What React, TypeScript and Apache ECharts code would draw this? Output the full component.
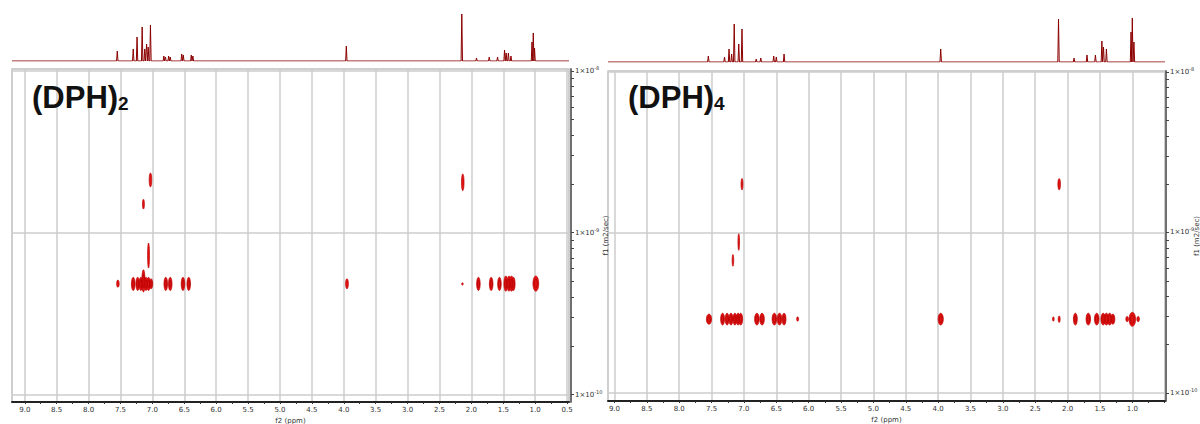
import React, { useEffect, useRef } from 'react';
import * as echarts from 'echarts';

// ---------- axis labels ----------
const xLabelsLeft = [9.0, 8.5, 8.0, 7.5, 7.0, 6.5, 6.0, 5.5, 5.0, 4.5, 4.0, 3.5, 3.0, 2.5, 2.0, 1.5, 1.0, 0.5];
const xLabelsRight = [9.0, 8.5, 8.0, 7.5, 7.0, 6.5, 6.0, 5.5, 5.0, 4.5, 4.0, 3.5, 3.0, 2.5, 2.0, 1.5, 1.0];
const yLabels = [1e-10, 1e-9, 1e-8];
const yMinorMultipliers = [1, 2, 3, 4, 5, 6, 7, 8, 9];

// axis ranges
const leftPpmRange = [0.47, 9.2];
const rightPpmRange = [0.495, 9.1];
const leftDRange = [8.99e-11, 1.028e-8];
const rightDRange = [8.91e-11, 1.014e-8];

// ---------- 1D projections (ppm, intensity) ----------
const left1DPpm = [7.55, 7.30, 7.24, 7.16, 7.12, 7.09, 7.065, 7.03, 6.82, 6.795, 6.745, 6.72, 6.54, 6.515, 6.39, 6.365, 3.96, 2.15, 1.92, 1.72, 1.59, 1.48, 1.455, 1.42, 1.38, 1.05, 1.03, 1.01];
const left1DInt = [10, 12, 24, 34, 12, 17, 14, 36, 5, 4, 5, 4, 7, 6, 6, 5, 15, 47, 3, 4, 4, 11, 8, 8, 5, 19, 28, 13];

const right1DPpm = [7.55, 7.30, 7.23, 7.19, 7.15, 7.08, 7.03, 6.81, 6.74, 6.54, 6.50, 6.38, 3.96, 2.14, 1.90, 1.70, 1.57, 1.47, 1.445, 1.40, 1.02, 1.00, 0.975];
const right1DInt = [6, 5, 13, 8, 38, 18, 33, 3, 4, 6, 5, 8, 13, 43, 4, 7, 7, 21, 15, 13, 30, 44, 20];

// ---------- DOSY cross peaks: centre ppm, ppm half width, D low, D high ----------
const leftSpotPpm = [7.54, 7.30, 7.23, 7.18, 7.14, 7.10, 7.06, 7.02, 6.79, 6.72, 6.52, 6.43, 3.95, 2.14, 1.89, 1.69, 1.56, 1.46, 1.41, 1.37, 1.34, 0.99, 7.03, 7.14, 7.06, 2.135];
const leftSpotHw = [0.02, 0.028, 0.028, 0.028, 0.025, 0.028, 0.028, 0.025, 0.028, 0.028, 0.028, 0.028, 0.022, 0.01, 0.028, 0.028, 0.028, 0.03, 0.03, 0.03, 0.025, 0.045, 0.02, 0.015, 0.015, 0.02];
const leftSpotDLow = [4.6e-10, 4.4e-10, 4.4e-10, 4.4e-10, 4.3e-10, 4.4e-10, 4.4e-10, 4.5e-10, 4.4e-10, 4.4e-10, 4.4e-10, 4.4e-10, 4.5e-10, 4.75e-10, 4.4e-10, 4.4e-10, 4.4e-10, 4.35e-10, 4.35e-10, 4.35e-10, 4.4e-10, 4.35e-10, 1.92e-9, 1.40e-9, 6.05e-10, 1.82e-9];
const leftSpotDHigh = [5.1e-10, 5.3e-10, 5.3e-10, 5.3e-10, 5.9e-10, 5.3e-10, 5.3e-10, 5.2e-10, 5.3e-10, 5.3e-10, 5.3e-10, 5.3e-10, 5.2e-10, 4.9e-10, 5.3e-10, 5.3e-10, 5.3e-10, 5.4e-10, 5.4e-10, 5.4e-10, 5.3e-10, 5.4e-10, 2.34e-9, 1.61e-9, 8.63e-10, 2.31e-9];

const rightSpotPpm = [7.54, 7.33, 7.26, 7.20, 7.14, 7.09, 7.05, 6.80, 6.72, 6.53, 6.45, 6.38, 6.17, 3.96, 2.22, 2.13, 1.88, 1.68, 1.55, 1.45, 1.40, 1.35, 1.30, 1.08, 1.00, 0.91, 7.03, 7.08, 7.17, 2.13];
const rightSpotHw = [0.04, 0.03, 0.03, 0.03, 0.03, 0.03, 0.03, 0.035, 0.035, 0.035, 0.035, 0.03, 0.015, 0.04, 0.01, 0.015, 0.03, 0.035, 0.035, 0.035, 0.035, 0.035, 0.03, 0.02, 0.05, 0.02, 0.015, 0.012, 0.012, 0.02];
const rightSpotDLow = [2.68e-10, 2.65e-10, 2.65e-10, 2.65e-10, 2.65e-10, 2.65e-10, 2.65e-10, 2.65e-10, 2.65e-10, 2.65e-10, 2.65e-10, 2.65e-10, 2.8e-10, 2.65e-10, 2.8e-10, 2.75e-10, 2.65e-10, 2.65e-10, 2.65e-10, 2.65e-10, 2.65e-10, 2.65e-10, 2.68e-10, 2.78e-10, 2.60e-10, 2.78e-10, 1.84e-9, 7.74e-10, 6.16e-10, 1.84e-9];
const rightSpotDHigh = [3.1e-10, 3.14e-10, 3.14e-10, 3.14e-10, 3.14e-10, 3.14e-10, 3.14e-10, 3.14e-10, 3.14e-10, 3.14e-10, 3.14e-10, 3.14e-10, 2.98e-10, 3.14e-10, 2.98e-10, 3.02e-10, 3.14e-10, 3.14e-10, 3.14e-10, 3.14e-10, 3.14e-10, 3.14e-10, 3.1e-10, 3.0e-10, 3.18e-10, 3.0e-10, 2.17e-9, 9.82e-10, 7.28e-10, 2.17e-9];

// ---------- helpers ----------
const PEAK_HALF_BASE = 0.011;

function buildSpectrum(ppm: number[], inten: number[], range: number[]) {
  const order = ppm.map((_, i) => i).sort((a, b) => ppm[b] - ppm[a]);
  const pts: number[][] = [[range[1], 0]];
  order.forEach((i) => {
    pts.push([ppm[i] + PEAK_HALF_BASE, 0], [ppm[i], inten[i]], [ppm[i] - PEAK_HALF_BASE, 0]);
  });
  pts.push([range[0], 0]);
  return pts;
}

function buildSpots(p: number[], hw: number[], lo: number[], hi: number[]) {
  return p.map((v, i) => [v, hw[i], lo[i], hi[i]]);
}

function minorTicks(labels: number[]) {
  const out: number[] = [];
  labels.forEach((v, i) => {
    out.push(v);
    if (i < labels.length - 1) out.push((v + labels[i + 1]) / 2);
  });
  return out;
}

const yMinorTicks: number[] = [];
yLabels.forEach((d, i) => {
  if (i < yLabels.length - 1) yMinorMultipliers.forEach((m) => yMinorTicks.push(m * d));
  else yMinorTicks.push(d);
});

const spotRender = (params: any, api: any) => {
  const p = api.value(0);
  const hw = api.value(1);
  const lo = api.value(2);
  const hi = api.value(3);
  const a = api.coord([p + hw, hi]);
  const b = api.coord([p - hw, lo]);
  const cx = (a[0] + b[0]) / 2;
  const cy = (a[1] + b[1]) / 2;
  const rx = Math.max(Math.abs(b[0] - a[0]) / 2, 0.8);
  const ry = Math.max(Math.abs(b[1] - a[1]) / 2, 0.8);
  const children: any[] = [
    { type: 'ellipse', shape: { cx, cy, rx, ry }, style: { fill: '#e01414', stroke: '#c00000', lineWidth: 0.7 } },
  ];
  if (rx > 1.5 && ry > 3) {
    children.push({ type: 'ellipse', shape: { cx, cy, rx: rx * 0.55, ry: ry * 0.6 }, style: { fill: 'none', stroke: '#a80000', lineWidth: 0.6 } });
  }
  return { type: 'group', children };
};

const FONT = 'DejaVu Sans';
const labelColor = '#333';

function yLabelFormatter(v: number) {
  const e = Math.round(Math.log10(v));
  return `{b|1×10}{s|${e}}`;
}

function makeAxes(gridBase: number, ppmRange: number[], dRange: number[], xLabels: number[], yOffset: number, yNameGap: number) {
  const xAxes = [
    { gridIndex: gridBase, type: 'value', inverse: true, min: ppmRange[0], max: ppmRange[1], show: false },
    {
      gridIndex: gridBase + 1, type: 'value', inverse: true, min: ppmRange[0], max: ppmRange[1], position: 'bottom',
      name: 'f2 (ppm)', nameLocation: 'middle', nameGap: 15, nameMoveOverlap: false,
      nameTextStyle: { fontSize: 7, color: labelColor, fontFamily: FONT },
      axisLine: { show: true, onZero: false, lineStyle: { color: '#222', width: 2 } },
      axisTick: { show: true, customValues: minorTicks(xLabelsLeft), length: 2, lineStyle: { color: '#333', width: 1 } },
      axisLabel: { show: true, customValues: xLabels, formatter: (v: number) => v.toFixed(1), fontSize: 7, color: labelColor, fontFamily: FONT, margin: 4 },
      splitLine: { show: false },
    },
    {
      gridIndex: gridBase + 1, type: 'value', inverse: true, min: ppmRange[0], max: ppmRange[1], position: 'bottom',
      minInterval: 0.5, maxInterval: 0.5,
      axisLine: { show: false }, axisTick: { show: false }, axisLabel: { show: false },
      splitLine: { show: true, lineStyle: { color: '#cccccc', width: 1.5 } },
    },
  ];
  const yAxes = [
    { gridIndex: gridBase, type: 'value', min: 0, max: 50, show: false },
    {
      gridIndex: gridBase + 1, type: 'log', min: dRange[0], max: dRange[1], position: 'right', offset: yOffset,
      name: 'f1 (m2/sec)', nameLocation: 'middle', nameGap: yNameGap, nameRotate: 90, nameMoveOverlap: false,
      nameTextStyle: { fontSize: 7, color: labelColor, fontFamily: FONT },
      axisLine: { show: true, lineStyle: { color: '#707070', width: 2 } },
      axisTick: { show: true, customValues: yMinorTicks, length: 3, lineStyle: { color: '#444', width: 1 } },
      axisLabel: {
        show: true, customValues: yLabels, formatter: yLabelFormatter, margin: 4,
        rich: {
          b: { fontSize: 7, color: labelColor, fontFamily: FONT },
          s: { fontSize: 5, color: labelColor, fontFamily: FONT, padding: [0, 0, 6, 0] },
        },
      },
      splitLine: { show: false },
    },
    {
      gridIndex: gridBase + 1, type: 'log', min: dRange[0], max: dRange[1], position: 'left',
      axisLine: { show: false }, axisTick: { show: false }, axisLabel: { show: false },
      splitLine: { show: true, lineStyle: { color: '#cccccc', width: 1.5 } },
    },
  ];
  return { xAxes, yAxes };
}

export default function App() {
  const ref = useRef<HTMLDivElement>(null);
  useEffect(() => {
    if (!ref.current) return;
    const chart = echarts.init(ref.current, undefined, { renderer: 'svg' });
    const L = makeAxes(0, leftPpmRange, leftDRange, xLabelsLeft, 2, 31);
    const R = makeAxes(2, rightPpmRange, rightDRange, xLabelsRight, 1, 27.5);
    const gridCommon = { containLabel: false, outerBoundsMode: 'none' } as any;
    const option: any = {
      animation: false,
      backgroundColor: '#ffffff',
      textStyle: { fontFamily: FONT },
      grid: [
        { ...gridCommon, left: 12, top: 11, width: 557, height: 50 },
        { ...gridCommon, left: 12, top: 69, width: 557, height: 333, show: true, borderColor: '#cccccc', borderWidth: 1.5 },
        { ...gridCommon, left: 608, top: 12, width: 557, height: 50 },
        { ...gridCommon, left: 608, top: 71, width: 557, height: 330, show: true, borderColor: '#cccccc', borderWidth: 1.5 },
      ],
      xAxis: [...L.xAxes, ...R.xAxes],
      yAxis: [...L.yAxes, ...R.yAxes],
      series: [
        {
          type: 'line', xAxisIndex: 0, yAxisIndex: 0, data: buildSpectrum(left1DPpm, left1DInt, leftPpmRange),
          showSymbol: false, symbol: 'none', lineStyle: { color: '#8b0000', width: 1 }, silent: true,
        },
        {
          type: 'custom', xAxisIndex: 1, yAxisIndex: 1, data: buildSpots(leftSpotPpm, leftSpotHw, leftSpotDLow, leftSpotDHigh),
          encode: { x: 0, y: 2 }, renderItem: spotRender, clip: false, z: 5,
        },
        {
          type: 'line', xAxisIndex: 3, yAxisIndex: 3, data: buildSpectrum(right1DPpm, right1DInt, rightPpmRange),
          showSymbol: false, symbol: 'none', lineStyle: { color: '#8b0000', width: 1 }, silent: true,
        },
        {
          type: 'custom', xAxisIndex: 4, yAxisIndex: 4, data: buildSpots(rightSpotPpm, rightSpotHw, rightSpotDLow, rightSpotDHigh),
          encode: { x: 0, y: 2 }, renderItem: spotRender, clip: false, z: 5,
        },
      ],
      graphic: [
        {
          type: 'text', left: 32, top: 82, z: 10,
          style: {
            text: '{a|(DPH)}{b|2}', fill: '#111',
            rich: {
              a: { fontSize: 31, fontWeight: 'bold', fontFamily: 'Liberation Sans', fill: '#111' },
              b: { fontSize: 19, fontWeight: 'bold', fontFamily: 'Liberation Sans', fill: '#111', padding: [11, 0, 0, 0] },
            },
          },
        },
        {
          type: 'text', left: 628, top: 82, z: 10,
          style: {
            text: '{a|(DPH)}{b|4}', fill: '#111',
            rich: {
              a: { fontSize: 31, fontWeight: 'bold', fontFamily: 'Liberation Sans', fill: '#111' },
              b: { fontSize: 19, fontWeight: 'bold', fontFamily: 'Liberation Sans', fill: '#111', padding: [11, 0, 0, 0] },
            },
          },
        },
      ],
    };
    chart.setOption(option);
    return () => chart.dispose();
  }, []);
  return (
    <div
      ref={ref}
      style={{ position: 'fixed', left: 0, top: 0, width: 1200, height: 424, background: '#fff' }}
    />
  );
}
